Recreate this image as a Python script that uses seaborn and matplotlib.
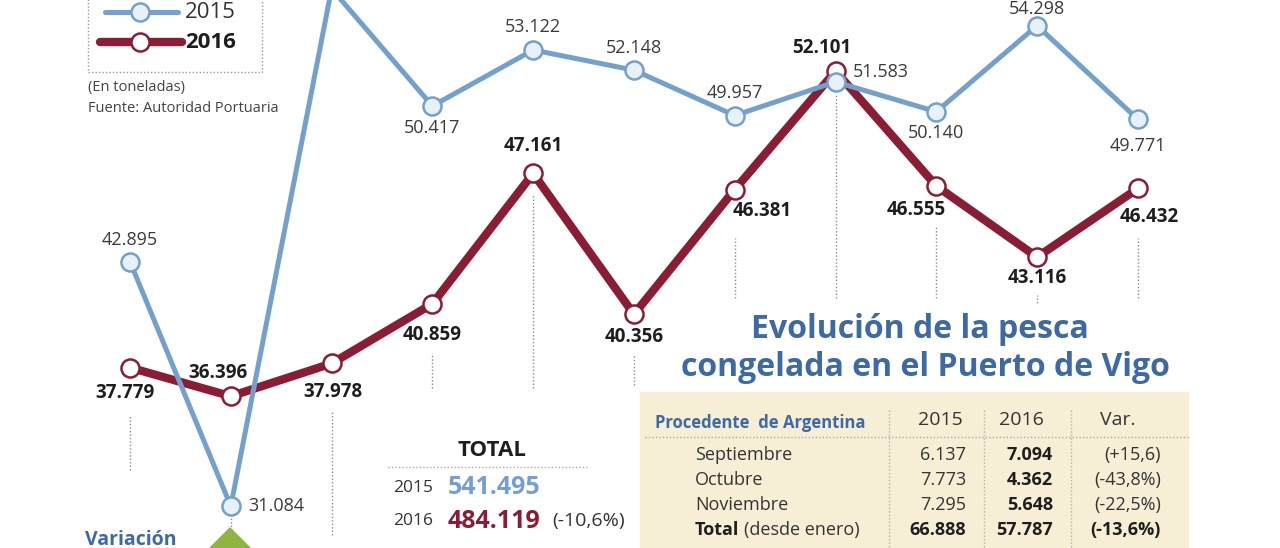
import matplotlib
matplotlib.use("Agg")
import matplotlib.pyplot as plt
from matplotlib import font_manager as fm
from matplotlib.patches import Rectangle, Polygon
from matplotlib.lines import Line2D
import pandas as pd
import seaborn as sns

# data (toneladas)
months = ['Ene', 'Feb', 'Mar', 'Abr', 'May', 'Jun', 'Jul', 'Ago', 'Sep', 'Oct', 'Nov']
v2015 = [42.895, 31.084, 56.080, 50.417, 53.122, 52.148, 49.957, 51.583, 50.140, 54.298, 49.771]
v2016 = [37.779, 36.396, 37.978, 40.859, 47.161, 40.356, 46.381, 52.101, 46.555, 43.116, 46.432]
lab2015 = ['42.895', '31.084', '56.080', '50.417', '53.122', '52.148', '49.957', '51.583', '50.140', '54.298', '49.771']
lab2016 = ['37.779', '36.396', '37.978', '40.859', '47.161', '40.356', '46.381', '52.101', '46.555', '43.116', '46.432']
total2015 = '541.495'
total2016 = '484.119'
total_var = '(-10,6%)'

tab_rows = ['Septiembre', 'Octubre', 'Noviembre']
arg2015 = ['6.137', '7.773', '7.295']
arg2016 = ['7.094', '4.362', '5.648']
argvar = ['(+15,6)', '(-43,8%)', '(-22,5%)']
arg_tot = ['66.888', '57.787', '(-13,6%)']

BLUE = '#73a0cd'
RED = '#8a1c34'
TITLE = '#3d69a5'
GREY = '#8c8c8c'


def pick(names):
    for n in names:
        try:
            fm.findfont(fm.FontProperties(family=n), fallback_to_default=False)
            return n
        except Exception:
            pass
    return 'DejaVu Sans'


sns.set_theme(style='white')
FONT = pick(['Liberation Sans Narrow', 'Open Sans', 'Roboto'])
plt.rcParams['font.family'] = [FONT, 'DejaVu Sans']

df = pd.DataFrame({'idx': range(len(months)), 'mes': months, 'y2015': v2015, 'y2016': v2016})

fig = plt.figure(figsize=(12.8, 5.48), dpi=100)
ax = fig.add_axes([0, 0, 1, 1])
ax.set_xlim(-1.29, 11.41)
ax.set_ylim(29.064, 55.537)
ax.axis('off')


def P(x, y):
    return x / 1280, 1 - y / 548


def ftext(x, y, s, **kw):
    kw.setdefault('va', 'center')
    fig.text(*P(x, y), s, **kw)


# drop guides under the 2016 points
guide_top = [35.49, 30.51, 35.73, 38.48, 46.12, 38.39, 44.04, 50.95, 44.57, 41.29, 44.04]
guide_bot = [32.83, 29.93, 29.69, 36.79, 36.79, 36.94, 41.14, 41.14, 41.14, 40.90, 41.14]
ax.vlines(df['idx'], guide_bot, guide_top, colors=GREY, linestyles=(0, (1, 1.5)), lw=1, zorder=1)

sns.lineplot(data=df, x='idx', y='y2016', ax=ax, color=RED, lw=6, marker='o', markersize=13,
             markerfacecolor='white', markeredgecolor=RED, markeredgewidth=1.8, zorder=3)
sns.lineplot(data=df, x='idx', y='y2015', ax=ax, color=BLUE, lw=3.6, marker='o', markersize=13,
             markerfacecolor='#e8f1f9', markeredgecolor=BLUE, markeredgewidth=1.8, zorder=4)
ax.set_xlim(-1.29, 11.41)
ax.set_ylim(29.064, 55.537)

off2015 = [(0, 22, 'center', 'center'), (17, 0, 'left', 'center'), (0, 22, 'center', 'center'),
           (0, -22, 'center', 'center'), (0, 23, 'center', 'center'), (0, 22, 'center', 'center'),
           (0, 23, 'center', 'center'), (17, 10, 'left', 'center'), (0, -21, 'center', 'center'),
           (0, 8, 'center', 'bottom'), (0, -27, 'center', 'center')]
off2016 = [(-5, -25), (-13, 23), (1, -29), (0, -31), (0, 27), (0, -23), (27, -21), (-14, 23), (-20, -24),
           (0, -21), (11, -29)]
for i, (v, s) in enumerate(zip(v2015, lab2015)):
    dx, dy, ha, va = off2015[i]
    ax.annotate(s, (i, v), xytext=(dx, dy), textcoords='offset pixels', ha=ha, va=va,
                fontsize=13, color='#3a3a3a', zorder=6)
for i, (v, s) in enumerate(zip(v2016, lab2016)):
    dx, dy = off2016[i]
    ax.annotate(s, (i, v), xytext=(dx, dy), textcoords='offset pixels', ha='center', va='center',
                fontsize=13.5, fontweight='bold', color='#1e1e1e', zorder=6)

# legend box
fig.patches.append(Rectangle(P(88, 72), 174 / 1280, 80 / 548, transform=fig.transFigure, fill=False,
                             edgecolor='#999999', ls=(0, (1, 1.5)), lw=1))
fig.lines.append(Line2D([105 / 1280, 178 / 1280], [P(0, 12)[1]] * 2, transform=fig.transFigure,
                        color=BLUE, lw=3.6))
fig.lines.append(Line2D([140 / 1280], [P(0, 12)[1]], transform=fig.transFigure, marker='o', ms=13,
                        mfc='#e8f1f9', mec=BLUE, mew=1.8))
fig.lines.append(Line2D([100 / 1280, 182 / 1280], [P(0, 42)[1]] * 2, transform=fig.transFigure,
                        color=RED, lw=6))
fig.lines.append(Line2D([140 / 1280], [P(0, 42)[1]], transform=fig.transFigure, marker='o', ms=13,
                        mfc='white', mec=RED, mew=1.8))
ftext(185, 12, '2015', fontsize=16, color='#333333')
ftext(185, 42, '2016', fontsize=16, fontweight='bold', color='#1e1e1e')
ftext(88, 88, '(En toneladas)', fontsize=10.5, color='#444444')
ftext(88, 109, 'Fuente: Autoridad Portuaria', fontsize=10.5, color='#444444')

# variacion
ftext(85, 540, 'Variación', fontsize=14, fontweight='bold', color=TITLE)
fig.patches.append(Polygon([P(230, 528), P(258, 556), P(230, 584), P(202, 556)], closed=True,
                           transform=fig.transFigure, color='#8db53f'))
ax.vlines([1], 29.35, 29.93, colors=GREY, linestyles=(0, (1, 1.5)), lw=1)

# total
ftext(492, 451, 'TOTAL', fontsize=16, fontweight='bold', color='#1e1e1e', ha='center')
fig.lines.append(Line2D([388 / 1280, 588 / 1280], [P(0, 467)[1]] * 2, transform=fig.transFigure,
                        color='#aaaaaa', ls=(0, (1, 1.5)), lw=1))
ftext(393, 488, '2015', fontsize=12.5, color='#333333')
ftext(448, 488, total2015, fontsize=18, fontweight='bold', color=BLUE)
ftext(393, 521, '2016', fontsize=12.5, color='#333333')
ftext(448, 521, total2016, fontsize=18, fontweight='bold', color=RED)
ftext(552, 521, total_var, fontsize=14, color='#333333')

# title
ftext(920, 330, 'Evolución de la pesca', fontsize=23, fontweight='bold', color=TITLE, ha='center')
ftext(925, 368, 'congelada en el Puerto de Vigo', fontsize=23, fontweight='bold', color=TITLE, ha='center')

# table
fig.patches.append(Rectangle(P(640, 548), 548 / 1280, 156 / 548, transform=fig.transFigure,
                             color='#f6eed5', zorder=0))
ftext(655, 423, 'Procedente  de Argentina', fontsize=12, fontweight='bold', color=TITLE)
ftext(940, 420, '2015', fontsize=14, color='#333333', ha='center')
ftext(1021, 420, '2016', fontsize=14, color='#333333', ha='center')
ftext(1118, 420, 'Var.', fontsize=14, color='#333333', ha='center')
fig.lines.append(Line2D([645 / 1280, 1188 / 1280], [P(0, 437)[1]] * 2, transform=fig.transFigure,
                        color='#aaaaaa', ls=(0, (1, 1.5)), lw=1))
for xs in (889, 984, 1071):
    fig.lines.append(Line2D([xs / 1280] * 2, [P(0, 410)[1], 0], transform=fig.transFigure,
                            color='#b0b0b0', ls=(0, (1, 1.5)), lw=1))
for r, (name, a, b, c) in enumerate(zip(tab_rows, arg2015, arg2016, argvar)):
    y = 455 + r * 25
    ftext(695, y, name, fontsize=13, color='#333333')
    ftext(966, y, a, fontsize=13, color='#333333', ha='right')
    ftext(1053, y, b, fontsize=13, fontweight='bold', color='#1e1e1e', ha='right')
    ftext(1161, y, c, fontsize=13, color='#333333', ha='right')
ftext(695, 530, 'Total', fontsize=13, fontweight='bold', color='#1e1e1e')
ftext(744, 530, '(desde enero)', fontsize=13, color='#333333')
ftext(966, 530, arg_tot[0], fontsize=13, fontweight='bold', color='#1e1e1e', ha='right')
ftext(1053, 530, arg_tot[1], fontsize=13, fontweight='bold', color='#1e1e1e', ha='right')
ftext(1161, 530, arg_tot[2], fontsize=13, fontweight='bold', color='#1e1e1e', ha='right')

fig.savefig('out.png', dpi=100)
